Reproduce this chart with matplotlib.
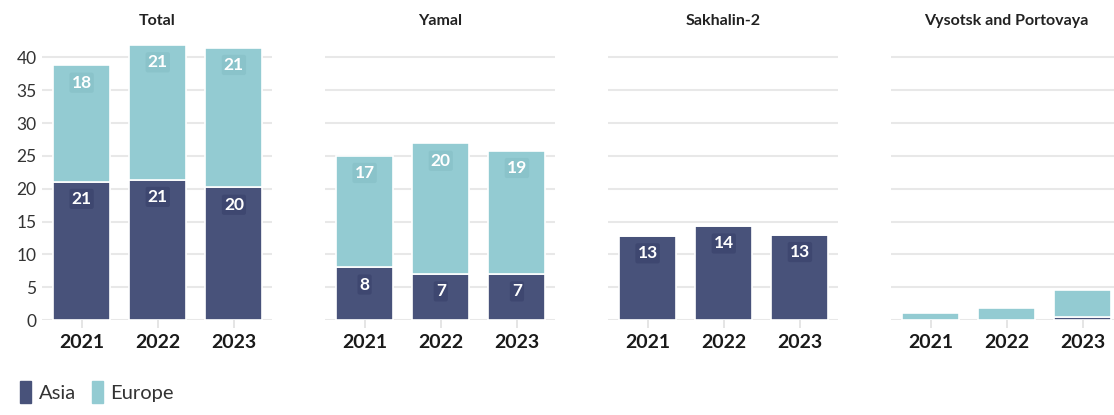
import matplotlib
matplotlib.use("Agg")
import matplotlib.pyplot as plt
from matplotlib.patches import Patch

plt.rcParams["font.family"] = ["Lato", "DejaVu Sans"]

# ===================== DATA =====================
years = ["2021", "2022", "2023"]
panels = ["Total", "Yamal", "Sakhalin-2", "Vysotsk and Portovaya"]
asia = [
    [21.1, 21.4, 20.2],
    [8.05, 7.0, 7.0],
    [12.8, 14.3, 13.0],
    [0.0, 0.0, 0.4],
]
europe = [
    [17.7, 20.5, 21.3],
    [17.0, 19.9, 18.8],
    [0.0, 0.0, 0.0],
    [1.0, 1.8, 4.2],
]
# labels shown inside the bars (None = no label)
asia_labels = [["21", "21", "20"], ["8", "7", "7"], ["13", "14", "13"], [None, None, None]]
europe_labels = [["18", "21", "21"], ["17", "20", "19"], [None, None, None], [None, None, None]]

ASIA_C = "#48527a"
EUROPE_C = "#93cbd2"
ASIA_BOX = "#3e4770"
EUROPE_BOX = "#8ac3ca"

W, H = 1114, 415
fig = plt.figure(figsize=(W / 100, H / 100), dpi=100)

lefts = [42, 325, 608, 891]
ax_w = 230
ax_bottom = 320
ax_top = 43

for i, name in enumerate(panels):
    ax = fig.add_axes([lefts[i] / W, (H - ax_bottom) / H, ax_w / W, (ax_bottom - ax_top) / H])
    x = range(len(years))
    ax.bar(x, asia[i], width=0.75, color=ASIA_C, edgecolor="white", linewidth=1.2, zorder=3)
    ax.bar(x, europe[i], width=0.75, bottom=asia[i], color=EUROPE_C, edgecolor="white",
           linewidth=1.2, zorder=3)

    for j in x:
        if asia_labels[i][j]:
            ax.annotate(asia_labels[i][j], (j, asia[i][j]), xytext=(0, -12.5),
                        textcoords="offset points", ha="center", va="center",
                        color="white", fontsize=12.5, fontweight="bold", zorder=5,
                        bbox=dict(boxstyle="round,pad=0.12", fc=ASIA_BOX, ec="none"))
        if europe_labels[i][j]:
            ax.annotate(europe_labels[i][j], (j, asia[i][j] + europe[i][j]), xytext=(0, -12.5),
                        textcoords="offset points", ha="center", va="center",
                        color="white", fontsize=12.5, fontweight="bold", zorder=5,
                        bbox=dict(boxstyle="round,pad=0.12", fc=EUROPE_BOX, ec="none"))

    ax.set_xlim(-0.52, 2.5)
    ax.set_ylim(0, 42.2)
    ax.set_yticks(range(0, 41, 5))
    ax.grid(axis="y", color="#e8e8e8", linewidth=1.5, zorder=0)
    ax.set_axisbelow(True)
    for s in ax.spines.values():
        s.set_visible(False)
    ax.set_xticks(list(x))
    ax.set_xticklabels(years, fontsize=14, fontweight="bold", color="#1a1a1a")
    ax.tick_params(axis="x", length=6, width=1.2, color="#e0e0e0", pad=4)
    if i == 0:
        ax.tick_params(axis="y", length=0, labelsize=12.5, labelcolor="#333333", pad=4)
    else:
        ax.tick_params(axis="y", length=0, labelleft=False)
    ax.set_title(name, fontsize=11.5, fontweight="bold", color="#222222", pad=13)

handles = [Patch(color=ASIA_C, label="Asia"), Patch(color=EUROPE_C, label="Europe")]
fig.legend(handles=handles, loc="lower left", bbox_to_anchor=(0.002, -0.015), ncol=2,
           frameon=False, fontsize=14.5, handlelength=0.55, handleheight=1.3,
           handletextpad=0.35, columnspacing=0.8, labelcolor="#333333")

fig.savefig("out.png", dpi=100)
